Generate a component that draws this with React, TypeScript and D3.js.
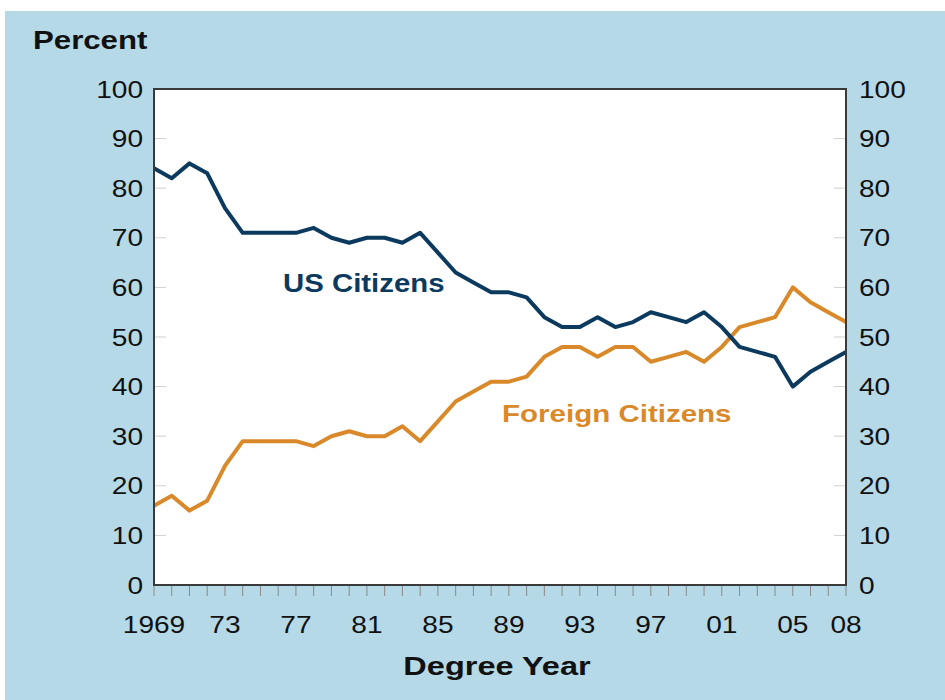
import React from "react";
import * as d3 from "d3";

const years: number[] = [
  1969, 1970, 1971, 1972, 1973, 1974, 1975, 1976, 1977, 1978,
  1979, 1980, 1981, 1982, 1983, 1984, 1985, 1986, 1987, 1988,
  1989, 1990, 1991, 1992, 1993, 1994, 1995, 1996, 1997, 1998,
  1999, 2000, 2001, 2002, 2003, 2004, 2005, 2006, 2007, 2008,
];
const usCitizens: number[] = [
  84, 82, 85, 83, 76, 71, 71, 71, 71, 72,
  70, 69, 70, 70, 69, 71, 67, 63, 61, 59,
  59, 58, 54, 52, 52, 54, 52, 53, 55, 54,
  53, 55, 52, 48, 47, 46, 40, 43, 45, 47,
];
const foreignCitizens: number[] = [
  16, 18, 15, 17, 24, 29, 29, 29, 29, 28,
  30, 31, 30, 30, 32, 29, 33, 37, 39, 41,
  41, 42, 46, 48, 48, 46, 48, 48, 45, 46,
  47, 45, 48, 52, 53, 54, 60, 57, 55, 53,
];
const xTickYears: number[] = [1969, 1973, 1977, 1981, 1985, 1989, 1993, 1997, 2001, 2005, 2008];
const xTickLabels: string[] = ["1969", "73", "77", "81", "85", "89", "93", "97", "01", "05", "08"];
const yTicks: number[] = [0, 10, 20, 30, 40, 50, 60, 70, 80, 90, 100];

const W = 945;
const H = 700;
const M = { left: 154, right: 846, top: 89, bottom: 585 };
const SX = 1.17;
const FONT = "Liberation Sans, Arial, sans-serif";
const BLUE = "#0c3a5e";
const ORANGE = "#d9892a";
const BG = "#b5d9e7";

function T(props: {
  x: number; y: number; anchor?: string; size: number; bold?: boolean; fill?: string; sx?: number; children: React.ReactNode;
}) {
  const { x, y, anchor = "start", size, bold, fill = "#111", sx = SX, children } = props;
  return (
    <text
      transform={`translate(${x},${y}) scale(${sx},1)`}
      textAnchor={anchor as any}
      fontFamily={FONT}
      fontSize={size}
      fontWeight={bold ? "bold" : "normal"}
      fill={fill}
    >
      {children}
    </text>
  );
}

export default function App() {
  const x = d3.scaleLinear().domain([1969, 2008]).range([M.left, M.right]);
  const y = d3.scaleLinear().domain([0, 100]).range([M.bottom, M.top]);
  const line = d3
    .line<number>()
    .x((_, i) => x(years[i]))
    .y((d) => y(d));

  return (
    <svg width={W} height={H} style={{ position: "absolute", left: 0, top: 0 }}>
      <rect x={0} y={0} width={W} height={H} fill="#fff" />
      <rect x={5} y={11} width={W - 5} height={H - 11} fill={BG} />
      <rect x={M.left} y={M.top} width={M.right - M.left} height={M.bottom - M.top} fill="#fff" />

      {yTicks.filter((t) => t > 0 && t < 100).map((t) => (
        <g key={"yt" + t}>
          <line x1={M.left} x2={M.left + 12} y1={y(t)} y2={y(t)} stroke="#cfcfcf" strokeWidth={1} />
          <line x1={M.right - 12} x2={M.right} y1={y(t)} y2={y(t)} stroke="#cfcfcf" strokeWidth={1} />
        </g>
      ))}

      {years.map((yr) => (
        <line key={"xt" + yr} x1={x(yr)} x2={x(yr)} y1={M.bottom} y2={M.bottom + 11} stroke="#8a8a8a" strokeWidth={1} />
      ))}

      <path d={line(foreignCitizens) || ""} fill="none" stroke={ORANGE} strokeWidth={4} strokeLinejoin="round" />
      <path d={line(usCitizens) || ""} fill="none" stroke={BLUE} strokeWidth={4} strokeLinejoin="round" />

      <rect x={M.left} y={M.top} width={M.right - M.left} height={M.bottom - M.top} fill="none" stroke="#3a3a3a" strokeWidth={2} />

      {yTicks.map((t) => (
        <g key={"yl" + t}>
          <T x={M.left - 11} y={y(t) + 8.5} anchor="end" size={24}>{t}</T>
          <T x={M.right + 13} y={y(t) + 8.5} anchor="start" size={24}>{t}</T>
        </g>
      ))}

      {xTickYears.map((yr, i) => (
        <T key={"xl" + yr} x={x(yr)} y={633} anchor="middle" size={24}>{xTickLabels[i]}</T>
      ))}

      <T x={33} y={49} size={26} bold sx={1.2}>Percent</T>
      <T x={497} y={675} anchor="middle" size={26} bold sx={1.25}>Degree Year</T>
      <T x={283} y={292} size={26} bold fill={BLUE} sx={1.13}>US Citizens</T>
      <T x={502} y={422} size={24} bold fill={ORANGE} sx={1.23}>Foreign Citizens</T>
    </svg>
  );
}
